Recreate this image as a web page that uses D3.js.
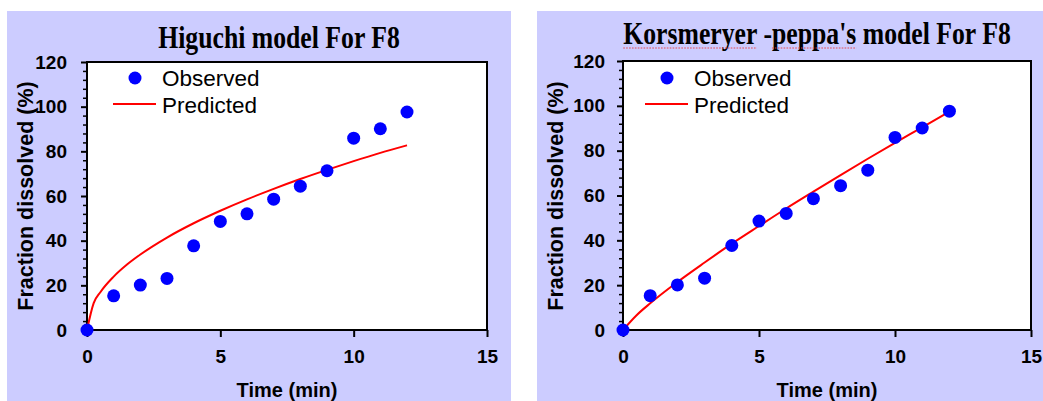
<!DOCTYPE html>
<html>
<head>
<meta charset="utf-8">
<script src="https://cdn.jsdelivr.net/npm/d3@7"></script>
<style>
  body { margin: 0; background: #fff; }
  svg { display: block; }
</style>
</head>
<body>
<svg id="chart"></svg>
<script>
// Observed dissolution data for F8 (same for both panels)
const obsTime = [0, 1, 2, 3, 4, 5, 6, 7, 8, 9, 10, 11, 12];
const observed = [0, 15.3, 20.1, 23.1, 37.7, 48.6, 52.0, 58.6, 64.4, 71.3, 85.9, 90.1, 97.6];

// Higuchi predicted curve
const higuchiTime = [0, 0.25, 0.5, 1, 1.5, 2, 3, 4, 5, 6, 7, 8, 9, 10, 11, 12];
const higuchiPred = [0, 12.0, 16.9, 23.9, 29.3, 33.8, 41.4, 47.8, 53.4, 58.5, 63.2, 67.6, 71.7, 75.6, 79.3, 82.7];

// Korsmeyer-Peppas predicted curve
const kpTime = [0, 0.5, 1, 2, 3, 4, 5, 6, 7, 8, 9, 10, 11, 12];
const kpPred = [0, 6.6, 11.9, 21.4, 30.1, 38.5, 46.4, 54.2, 61.7, 69.1, 76.4, 83.5, 90.4, 97.4];

const xTicks = [0, 5, 10, 15];
const yTicks = [0, 20, 40, 60, 80, 100, 120];
const titles = ["Higuchi model For F8", "Korsmeryer -peppa's model For F8"];
const legendLabels = ["Observed", "Predicted"];
const xLabel = "Time (min)";
const yLabel = "Fraction dissolved (%)";

const width = 1043;
const height = 401;
const sans = "'Liberation Sans', Arial, sans-serif";
const serif = "'Liberation Serif', 'Times New Roman', serif";

const svg = d3.select("#chart")
    .attr("width", width)
    .attr("height", height);

const panels = [
  { bg: [7, 11, 504, 390], left: 87, right: 487, top: 62, bottom: 330,
    title: titles[0], titleX: 279, titleY: 48, squiggle: null,
    time: higuchiTime, pred: higuchiPred,
    legX: 135, yLabX: 33, tickPad: 14 },
  { bg: [537, 11, 506, 390], left: 623, right: 1031, top: 61, bottom: 330,
    title: titles[1], titleX: 817, titleY: 44, squiggle: [[0, 10], [12, 7]],
    time: kpTime, pred: kpPred,
    legX: 667, yLabX: 563, tickPad: 12 }
];

panels.forEach(function(p) {
  const g = svg.append("g");

  // Lavender chart area
  g.append("rect")
      .attr("x", p.bg[0]).attr("y", p.bg[1])
      .attr("width", p.bg[2]).attr("height", p.bg[3])
      .attr("fill", "#CCCCFF");

  const x = d3.scaleLinear().domain([0, 15]).range([p.left, p.right]);
  const y = d3.scaleLinear().domain([0, 120]).range([p.bottom, p.top]);

  // Plot area
  g.append("rect")
      .attr("x", p.left).attr("y", p.top)
      .attr("width", p.right - p.left).attr("height", p.bottom - p.top)
      .attr("fill", "#fff");

  // Minor y ticks every 4 units
  g.append("g")
      .attr("transform", `translate(${p.left},0)`)
      .call(d3.axisLeft(y)
          .tickValues(d3.range(0, 121, 4).filter(d => d % 20 !== 0))
          .tickSize(4).tickSizeOuter(0).tickFormat(""))
      .call(a => a.select(".domain").remove())
      .selectAll("line").attr("stroke", "#000").attr("stroke-width", 1.5);

  // Major y ticks
  const yAxis = g.append("g")
      .attr("transform", `translate(${p.left},0)`)
      .call(d3.axisLeft(y).tickValues(yTicks).tickSize(6).tickSizeOuter(0).tickPadding(p.tickPad));
  yAxis.select(".domain").remove();
  yAxis.selectAll("line").attr("stroke", "#000").attr("stroke-width", 2);
  yAxis.selectAll("text")
      .attr("fill", "#000")
      .style("font-family", sans)
      .style("font-size", "19px")
      .style("font-weight", "bold");

  // x ticks
  const xAxis = g.append("g")
      .attr("transform", `translate(0,${p.bottom})`)
      .call(d3.axisBottom(x).tickValues(xTicks).tickSize(7).tickSizeOuter(0).tickPadding(13));
  xAxis.select(".domain").remove();
  xAxis.selectAll("line").attr("stroke", "#000").attr("stroke-width", 2);
  xAxis.selectAll("text")
      .attr("fill", "#000")
      .style("font-family", sans)
      .style("font-size", "19px")
      .style("font-weight", "bold");

  // Frame
  g.append("rect")
      .attr("x", p.left).attr("y", p.top)
      .attr("width", p.right - p.left).attr("height", p.bottom - p.top)
      .attr("fill", "none")
      .attr("stroke", "#000")
      .attr("stroke-width", 2);

  // Predicted line
  const line = d3.line()
      .x((d, i) => x(p.time[i]))
      .y(d => y(d))
      .curve(d3.curveMonotoneX);
  g.append("path")
      .datum(p.pred)
      .attr("d", line)
      .attr("fill", "none")
      .attr("stroke", "#FF0000")
      .attr("stroke-width", 2);

  // Observed points
  g.append("g")
      .selectAll("circle")
      .data(observed)
      .enter()
      .append("circle")
      .attr("cx", (d, i) => x(obsTime[i]))
      .attr("cy", d => y(d))
      .attr("r", 6.5)
      .attr("fill", "#0000FF");

  // Legend
  const leg = g.append("g");
  leg.append("circle")
      .attr("cx", p.legX).attr("cy", 78).attr("r", 6.5)
      .attr("fill", "#0000FF");
  leg.append("line")
      .attr("x1", p.legX - 22).attr("x2", p.legX + 21)
      .attr("y1", 104).attr("y2", 104)
      .attr("stroke", "#FF0000").attr("stroke-width", 2);
  leg.selectAll("text")
      .data(legendLabels)
      .enter()
      .append("text")
      .attr("x", p.legX + 27)
      .attr("y", (d, i) => 86 + i * 27)
      .style("font-family", sans)
      .style("font-size", "22.5px")
      .attr("fill", "#000")
      .text(d => d);

  // Title (condensed serif)
  const tg = g.append("g")
      .attr("transform", `translate(${p.titleX},${p.titleY}) scale(0.83,1)`);
  const title = tg.append("text")
      .attr("text-anchor", "middle")
      .style("font-family", serif)
      .style("font-size", "31px")
      .style("font-weight", "bold")
      .attr("fill", "#000")
      .text(p.title);
  if (p.squiggle) {
    const node = title.node();
    const total = node.getComputedTextLength();
    p.squiggle.forEach(function(s) {
      const x0 = -total / 2 + node.getSubStringLength(0, s[0]);
      const w = node.getSubStringLength(s[0], s[1]);
      tg.append("line")
          .attr("x1", x0).attr("x2", x0 + w)
          .attr("y1", 4).attr("y2", 4)
          .attr("stroke", "#E84040")
          .attr("stroke-width", 1)
          .attr("stroke-dasharray", "2,1.5");
    });
  }

  // Axis titles
  g.append("text")
      .attr("x", (p.left + p.right) / 2)
      .attr("y", 397)
      .attr("text-anchor", "middle")
      .style("font-family", sans)
      .style("font-size", "20px")
      .style("font-weight", "bold")
      .attr("fill", "#000")
      .text(xLabel);

  g.append("text")
      .attr("transform", `translate(${p.yLabX},196) rotate(-90)`)
      .attr("text-anchor", "middle")
      .style("font-family", sans)
      .style("font-size", "21.5px")
      .style("font-weight", "bold")
      .attr("fill", "#000")
      .text(yLabel);
});
</script>
</body>
</html>
